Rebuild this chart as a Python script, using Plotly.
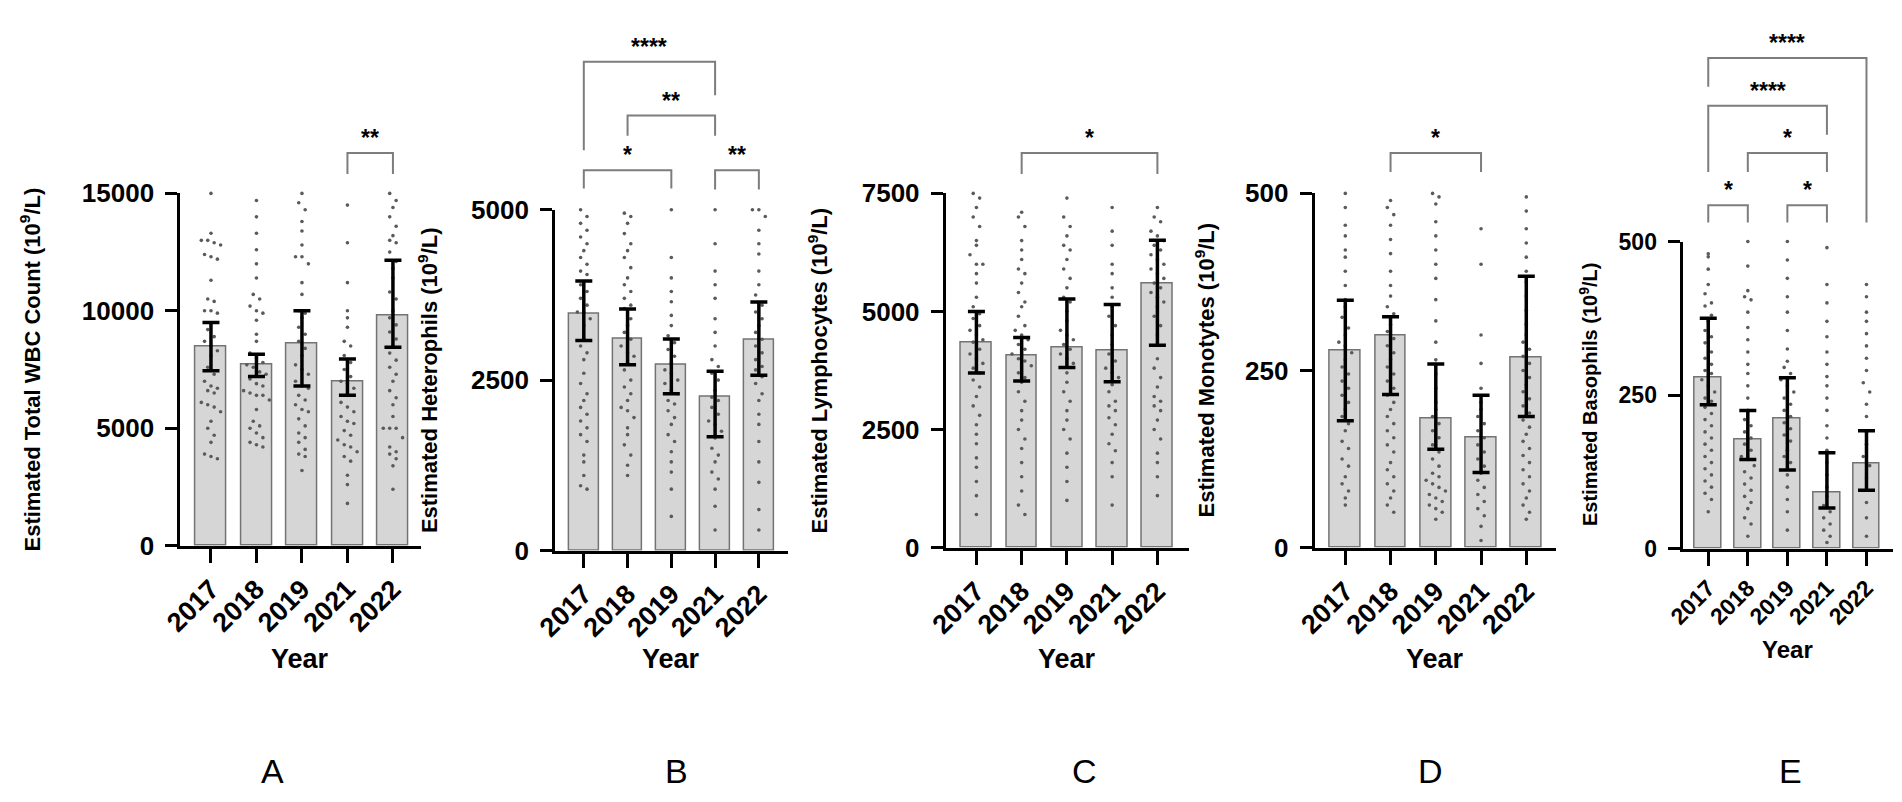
import numpy as np
import plotly.graph_objects as go

# ---------------- data ----------------
years = ["2017", "2018", "2019", "2021", "2022"]

# A: total WBC count
wbc_bar = [8500, 7700, 8600, 7000, 9800]
wbc_hi = [9500, 8150, 10000, 7950, 12150]
wbc_lo = [7450, 7200, 6800, 6400, 8450]
wbc_2017 = [15000, 13300, 13000, 13000, 12900, 12800, 12400, 12300, 12200, 11300, 10500, 10400, 10000, 10000, 9900,
            9200, 8900, 8700, 8500, 8300, 8100, 7600, 7300, 7000, 6800, 6700, 6600, 6500, 6100, 6000, 5900, 5700,
            5300, 5000, 4700, 4400, 3900, 3800, 3700]
wbc_2018 = [14700, 14000, 13300, 12600, 12000, 11400, 10700, 10500, 10200, 10000, 9900, 9600, 9000, 8700, 8200,
            8000, 7800, 7700, 7600, 7400, 7300, 7100, 6900, 6800, 6600, 6500, 6400, 6400, 6200, 5800, 5300, 5100,
            5000, 4800, 4600, 4400, 4300, 4200]
wbc_2019 = [15000, 14600, 14300, 13800, 13400, 12800, 12300, 12300, 12000, 11200, 10700, 10000, 9900, 9700, 9300,
            9000, 8700, 8400, 8100, 7700, 7500, 7300, 7000, 6800, 6700, 6400, 6200, 6000, 5800, 5700, 5400, 5100,
            4800, 4600, 4400, 4100, 3900, 3800, 3200]
wbc_2021 = [14500, 12900, 11200, 10000, 9700, 9300, 8700, 8500, 8100, 7800, 7500, 7200, 7000, 6900, 6700, 6400,
            6100, 5900, 5700, 5500, 5300, 5200, 4900, 4700, 4500, 4300, 4200, 4000, 3800, 3600, 3000, 2600, 1800]
wbc_2022 = [15000, 14700, 14400, 14000, 13600, 13200, 13000, 12900, 12500, 12100, 11800, 11400, 10800, 10500, 10000,
            9700, 9400, 9100, 8800, 8500, 8200, 7900, 7600, 7300, 7000, 6600, 6300, 6000, 5500, 5000, 5000, 5000,
            4600, 4200, 4000, 3900, 3700, 3400, 2400]

# B: heterophils
het_bar = [3475, 3105, 2725, 2260, 3090]
het_hi = [3955, 3545, 3105, 2630, 3645]
het_lo = [3080, 2725, 2300, 1670, 2570]
het_2017 = [5000, 4900, 4800, 4700, 4600, 4500, 4400, 4300, 4200, 4100, 4050, 3900, 3800, 3700, 3600, 3500, 3500,
            3400, 3300, 3100, 3000, 2900, 2800, 2600, 2450, 2300, 2200, 2100, 2000, 1900, 1800, 1700, 1600, 1400,
            1300, 1100, 950, 900]
het_2018 = [4950, 4900, 4800, 4650, 4500, 4400, 4300, 4150, 4000, 3900, 3800, 3700, 3600, 3550, 3400, 3300, 3200,
            3100, 3000, 2900, 2850, 2750, 2650, 2500, 2400, 2300, 2200, 2100, 2050, 1950, 1800, 1700, 1550, 1400,
            1250, 1100]
het_2019 = [5000, 4300, 4000, 3800, 3650, 3450, 3300, 3150, 3050, 2950, 2850, 2750, 2650, 2600, 2500, 2450, 2350,
            2300, 2200, 2150, 2050, 1950, 1850, 1700, 1600, 1450, 1300, 1150, 900, 500]
het_2021 = [5000, 4500, 4100, 3900, 3700, 3400, 3200, 3000, 2800, 2700, 2600, 2500, 2350, 2250, 2200, 2100, 2000,
            1900, 1850, 1750, 1650, 1500, 1400, 1300, 1150, 1050, 900, 650, 300]
het_2022 = [5000, 5000, 4900, 4700, 4500, 4350, 4100, 3900, 3750, 3600, 3500, 3400, 3300, 3200, 3100, 3000, 2900,
            2800, 2700, 2650, 2550, 2450, 2300, 2200, 2000, 1850, 1600, 1300, 1000, 600, 300]

# C: lymphocytes
lym_bar = [4350, 4060, 4245, 4185, 5590]
lym_hi = [5000, 4450, 5265, 5145, 6510]
lym_lo = [3695, 3530, 3815, 3510, 4285]
lym_2017 = [7500, 7400, 7200, 7000, 6800, 6500, 6400, 6200, 6000, 6000, 5800, 5600, 5300, 5100, 4950, 4850, 4700,
            4600, 4500, 4400, 4350, 4200, 4100, 4000, 3900, 3800, 3700, 3550, 3400, 3200, 3000, 2800, 2600, 2400,
            2200, 1900, 1700, 1400, 1100, 700]
lym_2018 = [7100, 7000, 6800, 6500, 6300, 6100, 5900, 5800, 5600, 5400, 5200, 5100, 4900, 4700, 4600, 4500, 4400,
            4300, 4200, 4100, 4000, 3950, 3850, 3700, 3600, 3500, 3300, 3100, 2900, 2700, 2500, 2300, 2100, 1800,
            1500, 1200, 900, 700]
lym_2019 = [7400, 7000, 6800, 6600, 6400, 6300, 6100, 5900, 5700, 5500, 5300, 5200, 5000, 4800, 4600, 4500, 4400,
            4300, 4200, 4100, 4000, 3900, 3700, 3500, 3300, 3100, 2900, 2700, 2500, 2300, 2000, 1700, 1400, 1000]
lym_2021 = [7200, 6700, 6400, 6000, 5800, 5500, 5300, 5100, 4900, 4700, 4500, 4300, 4100, 3950, 3800, 3700, 3600,
            3450, 3300, 3100, 3000, 2900, 2750, 2600, 2400, 2200, 2050, 1800, 1500, 900]
lym_2022 = [7200, 7000, 6900, 6700, 6600, 6500, 6400, 6300, 6200, 6100, 6000, 5900, 5800, 5700, 5600, 5500, 5400,
            5300, 5200, 5100, 4900, 4700, 4500, 4300, 4000, 3800, 3600, 3400, 3200, 3100, 3000, 2900, 2700, 2500,
            2300, 2000, 1800, 1500, 1100]

# D: monocytes
mono_bar = [278, 299, 183, 156, 268]
mono_hi = [349, 326, 259, 215, 383]
mono_lo = [179, 216, 139, 106, 185]
mono_2017 = [500, 480, 455, 440, 420, 410, 390, 370, 350, 340, 325, 310, 300, 290, 285, 275, 265, 255, 245, 235,
             225, 215, 205, 195, 185, 175, 165, 150, 140, 125, 115, 100, 90, 80, 70, 60]
mono_2018 = [490, 480, 470, 455, 435, 415, 390, 370, 355, 340, 330, 315, 305, 295, 285, 275, 265, 255, 245, 235,
             225, 215, 205, 195, 185, 175, 165, 155, 145, 135, 120, 110, 100, 90, 80, 70, 60, 50]
mono_2019 = [500, 495, 485, 460, 440, 420, 400, 380, 350, 320, 290, 265, 245, 225, 205, 195, 185, 175, 165, 155,
             145, 135, 125, 115, 105, 100, 95, 90, 85, 80, 75, 70, 65, 60, 55, 50, 40]
mono_2021 = [450, 400, 300, 260, 225, 205, 195, 185, 175, 165, 155, 145, 135, 125, 115, 105, 95, 85, 75, 65, 55,
             45, 30, 10]
mono_2022 = [495, 475, 450, 430, 410, 390, 375, 355, 335, 315, 300, 290, 280, 270, 260, 250, 240, 230, 220, 210,
             200, 190, 180, 170, 160, 150, 140, 130, 120, 110, 100, 90, 80, 70, 60, 50, 40]

# E: basophils
baso_bar = [278, 178, 212, 91, 139]
baso_hi = [375, 225, 278, 156, 192]
baso_lo = [234, 145, 128, 66, 95]
baso_2017 = [480, 475, 455, 430, 415, 400, 395, 380, 370, 355, 345, 335, 320, 310, 300, 290, 285, 275, 265, 255,
             245, 240, 230, 220, 210, 200, 190, 180, 170, 160, 150, 140, 130, 120, 110, 100, 90, 80, 60]
baso_2018 = [500, 460, 420, 410, 405, 385, 360, 340, 320, 300, 285, 265, 245, 225, 210, 200, 190, 180, 170, 160,
             150, 145, 135, 125, 115, 105, 95, 85, 75, 65, 50, 40, 20]
baso_2019 = [500, 470, 440, 410, 385, 355, 325, 305, 295, 285, 275, 265, 255, 245, 235, 225, 215, 205, 195, 185,
             175, 160, 150, 140, 120, 100, 80, 60, 30]
baso_2021 = [490, 430, 400, 370, 345, 320, 300, 280, 265, 245, 225, 200, 180, 160, 140, 120, 100, 85, 70, 60, 50,
             40, 30, 20, 10]
baso_2022 = [430, 410, 385, 370, 350, 330, 310, 290, 270, 255, 235, 215, 190, 170, 150, 135, 115, 95, 75, 50, 20]

# significance: (group i, group j, label)
sig_A = [(3, 4, "**")]
sig_B = [(0, 3, "****"), (1, 3, "**"), (0, 2, "*"), (3, 4, "**")]
sig_C = [(1, 4, "*")]
sig_D = [(1, 3, "*")]
sig_E = [(0, 4, "****"), (0, 3, "****"), (1, 3, "*"), (0, 1, "*"), (2, 3, "*")]

# ---------------- layout (pixels of the 1902x802 page) ----------------
W, H = 1902, 802
FONT = "Liberation Sans, Arial, sans-serif"
TITLE_FIX = 31  # rotated annotations land this many px right of their anchor

panels = [
    dict(letter="A", title="Estimated Total WBC Count (10<sup>9</sup>/L)", bar=wbc_bar, hi=wbc_hi, lo=wbc_lo,
         pts=[wbc_2017, wbc_2018, wbc_2019, wbc_2021, wbc_2022], ymax=15000, dtick=5000, sig=sig_A,
         x0=153, x1=396, c0=184, step=46, ytop=177, ybot=543, title_x=32, year_y=661, letter_x=246, big=True,
         levels=[(16720, 15820, 15820)]),
    dict(letter="B", title="Estimated Heterophils (10<sup>9</sup>/L)", bar=het_bar, hi=het_hi, lo=het_lo,
         pts=[het_2017, het_2018, het_2019, het_2021, het_2022], ymax=5000, dtick=2500, sig=sig_B,
         x0=532, x1=767, c0=561, step=44.25, ytop=194, ybot=548, title_x=430, year_y=661, letter_x=655, big=True,
         levels=[(7172, 5873, 6679), (6382, 6086, 6086), (5578, 5310, 5310), (5578, 5296, 5296)]),
    dict(letter="C", title="Estimated Lymphocytes (10<sup>9</sup>/L)", bar=lym_bar, hi=lym_hi, lo=lym_lo,
         pts=[lym_2017, lym_2018, lym_2019, lym_2021, lym_2022], ymax=7500, dtick=2500, sig=sig_C,
         x0=927, x1=1173, c0=958, step=45.75, ytop=177, ybot=545, title_x=820, year_y=661, letter_x=1067, big=True,
         levels=[(8356, 7908, 7908)]),
    dict(letter="D", title="Estimated Monotytes (10<sup>9</sup>/L)", bar=mono_bar, hi=mono_hi, lo=mono_lo,
         pts=[mono_2017, mono_2018, mono_2019, mono_2021, mono_2022], ymax=500, dtick=250, sig=sig_D,
         x0=1300, x1=1544, c0=1331, step=45.75, ytop=177, ybot=545, title_x=1207, year_y=661, letter_x=1417,
         big=True, levels=[(557, 530, 530)]),
    dict(letter="E", title="Estimated Basophils (10<sup>9</sup>/L)", bar=baso_bar, hi=baso_hi, lo=baso_lo,
         pts=[baso_2017, baso_2018, baso_2019, baso_2021, baso_2022], ymax=500, dtick=250, sig=sig_E,
         x0=1672, x1=1885, c0=1698, step=40, ytop=227, ybot=546, title_x=1590, year_y=651, letter_x=1781,
         big=False,
         levels=[(799, 752, 531), (721, 613, 674), (644, 613, 613), (559, 531, 531), (559, 531, 531)]),
]


def swarm(vals, px_per_unit, step_px, cat_px):
    # spread points that share a pixel row sideways, like a GraphPad scatter
    v = np.asarray(vals, dtype=float)
    rows = np.round(v * px_per_unit / 13).astype(int)
    offs = np.zeros(len(v))
    for r in np.unique(rows):
        idx = np.where(rows == r)[0]
        n = len(idx)
        offs[idx] = (np.arange(n) - (n - 1) / 2) * step_px / cat_px
    return offs


fig = go.Figure()
shapes, annotations = [], []
layout_axes = {}

for k, p in enumerate(panels):
    n = k + 1
    xa, ya = ("x" if n == 1 else f"x{n}"), ("y" if n == 1 else f"y{n}")
    xr = [(p["x0"] - p["c0"]) / p["step"], (p["x1"] - p["c0"]) / p["step"]]
    xdom = [p["x0"] / W, p["x1"] / W]
    ydom = [1 - p["ybot"] / H, 1 - p["ytop"] / H]
    ppu = (p["ybot"] - p["ytop"]) / p["ymax"]
    pos = list(range(len(years)))

    fig.add_trace(go.Bar(x=pos, y=p["bar"], width=0.68, xaxis=xa, yaxis=ya,
                         marker=dict(color="rgb(214,214,214)", line=dict(color="rgb(115,115,115)", width=1.5)),
                         showlegend=False, hoverinfo="skip"))
    for i, vals in enumerate(p["pts"]):
        offs = swarm(vals, ppu, 6.5, p["step"])
        fig.add_trace(go.Scatter(x=i + offs, y=vals, mode="markers", xaxis=xa, yaxis=ya,
                                 marker=dict(size=3.6, color="rgb(90,90,90)"), cliponaxis=False,
                                 showlegend=False, hoverinfo="y"))
    fig.add_trace(go.Scatter(x=pos, y=p["bar"], mode="markers", xaxis=xa, yaxis=ya,
                             marker=dict(size=1, color="rgba(0,0,0,0)"), showlegend=False, hoverinfo="skip",
                             error_y=dict(type="data", symmetric=False,
                                          array=[h - b for h, b in zip(p["hi"], p["bar"])],
                                          arrayminus=[b - l for b, l in zip(p["bar"], p["lo"])],
                                          color="black", thickness=3.5, width=8.5)))

    big = p["big"]
    xfont = dict(family=FONT, size=27 if big else 23, color="black", weight="bold")
    yfont = dict(family=FONT, size=26 if big else 23, color="black", weight="bold")
    layout_axes["xaxis" if n == 1 else f"xaxis{n}"] = dict(
        domain=xdom, range=xr, anchor=ya, tickvals=pos, ticktext=years, tickangle=-45,
        showline=True, linewidth=3, linecolor="black", ticks="outside", ticklen=14, tickwidth=3,
        tickcolor="black", tickfont=xfont, showgrid=False, zeroline=False, fixedrange=True)
    layout_axes["yaxis" if n == 1 else f"yaxis{n}"] = dict(
        domain=ydom, range=[0, p["ymax"]], anchor=xa, dtick=p["dtick"], tick0=0, tickformat="d",
        showline=True, linewidth=3, linecolor="black", ticks="outside", ticklen=12, tickwidth=3,
        tickcolor="black", tickfont=yfont, ticklabelstandoff=6, showgrid=False, zeroline=False,
        fixedrange=True)

    # helpers: data -> paper
    def px_x(v, xr=xr, xdom=xdom):
        return xdom[0] + (v - xr[0]) / (xr[1] - xr[0]) * (xdom[1] - xdom[0])

    def px_y(v, p=p, ydom=ydom):
        return ydom[0] + v / p["ymax"] * (ydom[1] - ydom[0])

    for (i, j, lab), (yl, ya_end, yb_end) in zip(p["sig"], p["levels"]):
        xi, xj = px_x(i), px_x(j)
        path = f"M {xi},{px_y(ya_end)} L {xi},{px_y(yl)} L {xj},{px_y(yl)} L {xj},{px_y(yb_end)}"
        shapes.append(dict(type="path", path=path, xref="paper", yref="paper",
                           line=dict(color="rgb(125,125,125)", width=2)))
        annotations.append(dict(x=(xi + xj) / 2, y=px_y(yl), xref="paper", yref="paper", text=lab,
                                showarrow=False, yanchor="bottom", xanchor="center",
                                font=dict(family=FONT, size=23, color="black", weight="bold")))

    annotations.append(dict(x=0, y=(ydom[0] + ydom[1]) / 2, xref="paper", yref="paper",
                            xshift=p["title_x"] - TITLE_FIX, text=p["title"], textangle=-90, showarrow=False,
                            xanchor="center", yanchor="middle",
                            font=dict(family=FONT, size=22 if big else 20, color="black", weight="bold")))
    annotations.append(dict(x=(xdom[0] + xdom[1]) / 2, y=1 - p["year_y"] / H, xref="paper", yref="paper",
                            text="Year", showarrow=False, xanchor="center", yanchor="middle",
                            font=dict(family=FONT, size=27 if big else 24, color="black", weight="bold")))
    annotations.append(dict(x=p["letter_x"] / W, y=1 - 777 / H, xref="paper", yref="paper",
                            text=p["letter"], showarrow=False, xanchor="center", yanchor="middle",
                            font=dict(family=FONT, size=34, color="black")))

fig.update_layout(width=W, height=H, margin=dict(l=0, r=0, t=0, b=0), paper_bgcolor="white",
                  plot_bgcolor="white", bargap=0, showlegend=False, shapes=shapes, annotations=annotations,
                  **layout_axes)

fig.write_html("out.html")
